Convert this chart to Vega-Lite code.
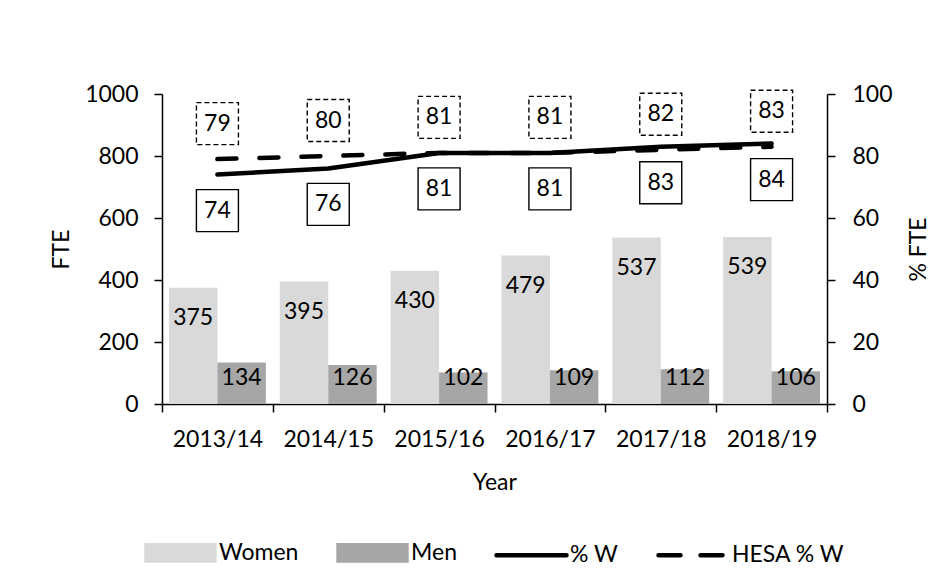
{
  "$schema": "https://vega.github.io/schema/vega-lite/v6.json",
  "width": 665,
  "height": 310,
  "autosize": {"type": "none"},
  "padding": {"left": 162, "top": 94, "right": 125, "bottom": 180},
  "background": "white",
  "config": {
    "font": "Lato",
    "view": {"stroke": null},
    "axis": {
      "labelFont": "Lato", "titleFont": "Lato",
      "labelFontSize": 23, "titleFontSize": 23,
      "labelColor": "black", "titleColor": "black",
      "titleFontWeight": "normal",
      "domainColor": "black", "tickColor": "black",
      "domainWidth": 1.5, "tickWidth": 1.5, "tickSize": 8,
      "grid": false
    },
    "legend": {
      "orient": "none",
      "legendX": -19,
      "legendY": 421,
      "direction": "horizontal",
      "padding": 0,
      "labelFont": "Lato",
      "labelFontSize": 23,
      "labelColor": "black",
      "symbolSize": 4900,
      "labelOffset": 1,
      "columnPadding": 30
    }
  },
  "datasets": {
    "fte": [
      {"year": "2013/14", "series": "Women", "value": 375},
      {"year": "2013/14", "series": "Men", "value": 134},
      {"year": "2014/15", "series": "Women", "value": 395},
      {"year": "2014/15", "series": "Men", "value": 126},
      {"year": "2015/16", "series": "Women", "value": 430},
      {"year": "2015/16", "series": "Men", "value": 102},
      {"year": "2016/17", "series": "Women", "value": 479},
      {"year": "2016/17", "series": "Men", "value": 109},
      {"year": "2017/18", "series": "Women", "value": 537},
      {"year": "2017/18", "series": "Men", "value": 112},
      {"year": "2018/19", "series": "Women", "value": 539},
      {"year": "2018/19", "series": "Men", "value": 106}
    ],
    "pct": [
      {"year": "2013/14", "series": "% W", "value": 74},
      {"year": "2014/15", "series": "% W", "value": 76},
      {"year": "2015/16", "series": "% W", "value": 81},
      {"year": "2016/17", "series": "% W", "value": 81},
      {"year": "2017/18", "series": "% W", "value": 83},
      {"year": "2018/19", "series": "% W", "value": 84},
      {"year": "2013/14", "series": "HESA % W", "value": 79},
      {"year": "2014/15", "series": "HESA % W", "value": 80},
      {"year": "2015/16", "series": "HESA % W", "value": 81},
      {"year": "2016/17", "series": "HESA % W", "value": 81},
      {"year": "2017/18", "series": "HESA % W", "value": 82},
      {"year": "2018/19", "series": "HESA % W", "value": 83}
    ]
  },
  "layer": [
    {
      "data": {"name": "fte"},
      "layer": [
        {
          "mark": {"type": "bar"},
          "encoding": {
            "x": {
              "field": "year", "type": "nominal", "sort": null, "title": "Year",
              "scale": {"paddingInner": 0, "paddingOuter": 0},
              "axis": {"labelAngle": 0, "tickBand": "extent", "labelPadding": 16, "titlePadding": 20}
            },
            "xOffset": {
              "field": "series", "type": "nominal", "sort": ["Women", "Men"],
              "scale": {"domain": ["Women", "Men"], "paddingInner": 0, "paddingOuter": 0.144}
            },
            "y": {
              "field": "value", "type": "quantitative", "title": "FTE",
              "scale": {"domain": [0, 1000]},
              "axis": {"values": [0, 200, 400, 600, 800, 1000], "format": "d", "labelPadding": 16, "titlePadding": 11}
            },
            "color": {
              "field": "series", "type": "nominal",
              "scale": {"domain": ["Women", "Men", "% W", "HESA % W"], "range": ["#d9d9d9", "#a6a6a6", "#000000", "#000000"]},
              "legend": {
                "title": null,
                "encode": {
                  "symbols": {
                    "update": {
                      "shape": [
                        {"test": "indexof(['% W','HESA % W'], datum.value) >= 0", "value": "M-1,0H1"},
                        {"value": "M-0.97,-0.22H0.97V0.22H-0.97Z"}
                      ],
                      "fill": [
                        {"test": "datum.value === 'Women'", "value": "#d9d9d9"},
                        {"test": "datum.value === 'Men'", "value": "#a6a6a6"},
                        {"value": "transparent"}
                      ],
                      "stroke": [
                        {"test": "indexof(['% W','HESA % W'], datum.value) >= 0", "value": "#000000"},
                        {"value": "transparent"}
                      ],
                      "strokeWidth": {"value": 4.5},
                      "strokeCap": {"value": "round"},
                      "strokeDash": [
                        {"test": "datum.value === 'HESA % W'", "value": [22, 20]},
                        {"value": [1, 0]}
                      ],
                      "opacity": {"value": 1},
                      "fillOpacity": {"value": 1},
                      "strokeOpacity": {"value": 1}
                    }
                  }
                }
              }
            }
          }
        },
        {
          "transform": [{"filter": "datum.series === 'Women'"}],
          "mark": {"type": "text", "dy": 30, "baseline": "middle", "align": "center", "fontSize": 23, "font": "Lato", "color": "black"},
          "encoding": {
            "x": {"field": "year", "type": "nominal", "sort": null},
            "xOffset": {"field": "series", "type": "nominal", "sort": ["Women", "Men"]},
            "y": {"field": "value", "type": "quantitative"},
            "text": {"field": "value", "type": "quantitative"}
          }
        },
        {
          "transform": [{"filter": "datum.series === 'Men'"}],
          "mark": {"type": "text", "baseline": "middle", "align": "center", "fontSize": 23, "font": "Lato", "color": "black"},
          "encoding": {
            "x": {"field": "year", "type": "nominal", "sort": null},
            "xOffset": {"field": "series", "type": "nominal", "sort": ["Women", "Men"]},
            "y": {"datum": 85, "type": "quantitative"},
            "text": {"field": "value", "type": "quantitative"}
          }
        }
      ]
    },
    {
      "data": {"name": "pct"},
      "layer": [
        {
          "transform": [{"filter": "datum.series === 'HESA % W'"}],
          "mark": {"type": "line", "strokeWidth": 4.5, "strokeDash": [19, 23], "strokeCap": "round"},
          "encoding": {
            "x": {"field": "year", "type": "nominal", "sort": null},
            "y": {
              "field": "value", "type": "quantitative", "title": "% FTE",
              "scale": {"domain": [0, 100]},
              "axis": {"orient": "right", "values": [0, 20, 40, 60, 80, 100], "labelPadding": 17, "titleAngle": 270, "titleBaseline": "top", "titlePadding": 15}
            },
            "color": {"field": "series", "type": "nominal"}
          }
        },
        {
          "transform": [{"filter": "datum.series === '% W'"}],
          "mark": {"type": "line", "strokeWidth": 4.5, "strokeCap": "round", "strokeJoin": "round"},
          "encoding": {
            "x": {"field": "year", "type": "nominal", "sort": null},
            "y": {"field": "value", "type": "quantitative"},
            "color": {"field": "series", "type": "nominal"}
          }
        },
        {
          "transform": [{"filter": "datum.series === '% W'"}],
          "mark": {"type": "point", "shape": "square", "size": 1764, "filled": true, "fill": "white", "stroke": "black", "strokeWidth": 1.4, "opacity": 1, "yOffset": 36},
          "encoding": {
            "x": {"field": "year", "type": "nominal", "sort": null},
            "y": {"field": "value", "type": "quantitative"}
          }
        },
        {
          "transform": [{"filter": "datum.series === 'HESA % W'"}],
          "mark": {"type": "point", "shape": "square", "size": 1764, "filled": true, "fill": "white", "stroke": "black", "strokeWidth": 1.4, "strokeDash": [5, 3], "opacity": 1, "yOffset": -35.5},
          "encoding": {
            "x": {"field": "year", "type": "nominal", "sort": null},
            "y": {"field": "value", "type": "quantitative"}
          }
        },
        {
          "transform": [{"filter": "datum.series === '% W'"}],
          "mark": {"type": "text", "dy": 36, "baseline": "middle", "align": "center", "fontSize": 23, "font": "Lato", "color": "black"},
          "encoding": {
            "x": {"field": "year", "type": "nominal", "sort": null},
            "y": {"field": "value", "type": "quantitative"},
            "text": {"field": "value", "type": "quantitative"}
          }
        },
        {
          "transform": [{"filter": "datum.series === 'HESA % W'"}],
          "mark": {"type": "text", "dy": -35.5, "baseline": "middle", "align": "center", "fontSize": 23, "font": "Lato", "color": "black"},
          "encoding": {
            "x": {"field": "year", "type": "nominal", "sort": null},
            "y": {"field": "value", "type": "quantitative"},
            "text": {"field": "value", "type": "quantitative"}
          }
        }
      ]
    }
  ],
  "resolve": {"scale": {"y": "independent"}}
}
